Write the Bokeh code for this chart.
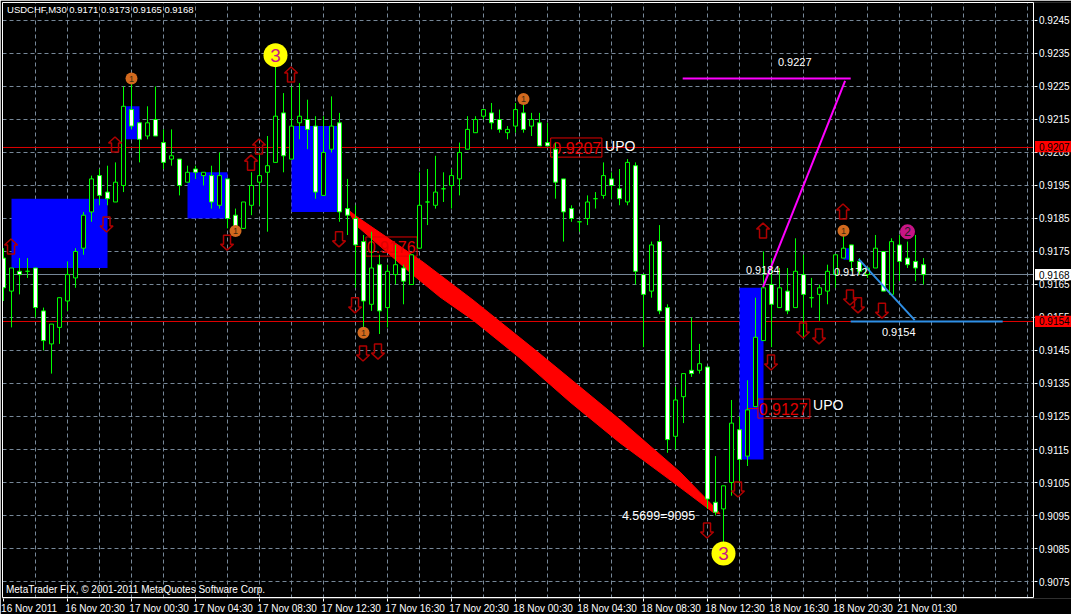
from bokeh.plotting import figure
from bokeh.models import (LinearAxis, FixedTicker, NumeralTickFormatter, Span)
from bokeh.core.properties import value
from bokeh.embed import file_html
from bokeh.resources import INLINE

title_text = "USDCHF,M30  0.9171 0.9173 0.9165 0.9168"
footer_text = "MetaTrader FIX, © 2001-2011 MetaQuotes Software Corp."

opens = [.9173,.9163,.9169,.9169,.9170,.9157,.9147,.9152,.9160,.9167,.9176,.9187,.9198,.9193,.9190,.9195,.9218,.9214,.9210,.9215,
 .9208,.9203,.9203,.9196,.9200,.9198,.9198,.9189,.9197,.9186,.9182,.9189,.9196,.9199,.9202,.9217,.9203,.9214,.9215,.9213,
 .9192,.9206,.9214,.9188,.9185,.9178,.9159,.9171,.9158,.9168,.9170,.9165,.9176,.9190,.9189,.9194,.9195,.9197,.9206,.9211,
 .9216,.9217,.9215,.9211,.9213,.9217,.9213,.9214,.9208,.9206,.9197,.9188,.9184,.9185,.9191,.9192,.9197,.9194,.9190,.9201,
 .9168,.9163,.9178,.9158,.9119,.9131,.9139,.9139,.9140,.9099,.9097,.9105,.9121,.9113,.9128,.9148,.9165,.9158,.9163,.9158,
 .9168,.9161,.9162,.9163,.9168,.9173,.9177,.9172,.9168,.9170,.9175,.9162,.9177,.9173,.9172,.9171]
highs = [.9176,.9170,.9173,.9173,.9170,.9158,.9153,.9161,.9172,.9176,.9187,.9198,.9200,.9201,.9202,.9225,.9226,.9214,.9219,.9225,
 .9212,.9212,.9203,.9201,.9201,.9199,.9201,.9205,.9197,.9188,.9190,.9199,.9205,.9210,.9231,.9223,.9225,.9226,.9221,.9216,
 .9216,.9222,.9217,.9197,.9189,.9180,.9181,.9174,.9171,.9177,.9171,.9174,.9199,.9200,.9204,.9199,.9200,.9208,.9216,.9216,
 .9218,.9220,.9218,.9213,.9220,.9221,.9217,.9217,.9214,.9208,.9197,.9189,.9184,.9192,.9193,.9202,.9199,.9200,.9203,.9202,
 .9168,.9178,.9183,.9159,.9134,.9138,.9155,.9147,.9140,.9113,.9104,.9130,.9125,.9136,.9161,.9175,.9173,.9170,.9170,.9179,
 .9174,.9167,.9165,.9171,.9174,.9180,.9177,.9173,.9170,.9180,.9175,.9179,.9180,.9178,.9180,.9173]
lows = [.9160,.9152,.9162,.9167,.9155,.9145,.9138,.9147,.9157,.9164,.9174,.9184,.9189,.9189,.9190,.9193,.9212,.9202,.9209,.9210,
 .9200,.9201,.9192,.9196,.9197,.9195,.9188,.9188,.9182,.9181,.9182,.9186,.9189,.9181,.9202,.9199,.9203,.9209,.9206,.9191,
 .9192,.9205,.9184,.9180,.9164,.9149,.9157,.9150,.9152,.9165,.9159,.9165,.9176,.9183,.9188,.9190,.9188,.9192,.9206,.9211,
 .9215,.9212,.9211,.9209,.9211,.9211,.9210,.9207,.9207,.9191,.9178,.9184,.9181,.9183,.9188,.9191,.9191,.9189,.9189,.9165,
 .9146,.9161,.9156,.9114,.9115,.9123,.9137,.9138,.9097,.9095,.9087,.9101,.9105,.9110,.9128,.9148,.9146,.9158,.9156,.9158,
 .9149,.9158,.9154,.9159,.9164,.9173,.9169,.9168,.9167,.9170,.9163,.9162,.9166,.9170,.9166,.9165]
closes = [.9164,.9170,.9168,.9169,.9158,.9148,.9153,.9161,.9168,.9175,.9186,.9197,.9192,.9191,.9196,.9219,.9213,.9209,.9214,.9210,
 .9202,.9204,.9195,.9199,.9199,.9199,.9190,.9198,.9185,.9182,.9190,.9195,.9198,.9201,.9216,.9204,.9213,.9216,.9212,.9193,
 .9205,.9213,.9187,.9186,.9177,.9160,.9170,.9157,.9169,.9171,.9166,.9174,.9189,.9190,.9193,.9194,.9198,.9205,.9212,.9215,
 .9218,.9214,.9212,.9212,.9218,.9212,.9215,.9207,.9207,.9196,.9187,.9185,.9184,.9190,.9191,.9198,.9195,.9191,.9202,.9169,
 .9162,.9177,.9157,.9118,.9130,.9138,.9138,.9141,.9100,.9096,.9104,.9123,.9112,.9127,.9149,.9164,.9159,.9164,.9157,.9169,
 .9162,.9161,.9164,.9169,.9174,.9176,.9172,.9169,.9170,.9176,.9163,.9178,.9172,.9171,.9170,.9168]

box_left = [1, 15, 23, 36, 92, 105]
box_right = [13, 17, 28, 42, 95, 106]
box_top = [.9191, .9219, .9199, .9213, .9164, .9176]
box_bottom = [.9170, .9209, .9185, .9187, .9112, .91725]

band_upper_bar = [42.94, 44.19, 52.44, 58.69, 66.44, 72.06, 77.06, 84.56, 89.19, 89.56]
band_upper_price = [.91879, .91855, .91718, .91603, .91452, .9134, .9124, .91082, .90967, .90955]
band_lower_bar = [88.69, 83.31, 77.06, 70.81, 64.56, 58.69, 54.56, 51.19, 44.19]
band_lower_price = [.9096, .91058, .9117, .91294, .91427, .91542, .91612, .91679, .91827]

gray_line = .916803
red_lines = [.920652, .915379]

up_bar = [.94, 13.94, 30.94, 31.94, 35.94, 94.94, 104.94]
up_price = [.91788, .92097, .92042, .92091, .92309, .91836, .91894]
down_bar = [12.88, 27.94, 41.94, 43.94, 44.94, 46.81, 87.94, 91.81, 95.94, 99.94, 101.94, 105.81, 106.81, 109.81]
down_price = [.91809, .91754, .91764, .91564, .91418, .91424, .90882, .91006, .91391, .91488, .9147, .91588, .91564, .91548]

orange_bar = [16, 29, 65, 45, 105]
orange_price = [.92274, .91812, .92212, .91504, .91813]
purple_bar = [113]
purple_price = [.9181]
yellow_bar = [34, 90]
yellow_price = [.92345, .90835]

magenta_bar = [84.9, 105.9]
magenta_level = .92274
magenta_d_bar = [94.94, 105.2]
magenta_d_price = [.91642, .92267]
blue_d_bar = [106.9, 113.9]
blue_d_price = [.91727, .91542]
blue_h_bar = [105.9, 124.9]
blue_h_price = .91538

note_bar = [96.8, 92.8, 103.8, 109.8]
note_price = [.92323, .91695, .91688, .91506]
note_text = ["0.9227", "0.9184", "0.9172", "0.9154"]
ratio_bar = [77.3]
ratio_price = [.90949]
ratio_text = ["4.5699=9095"]
upo_bar = [75.2, 101.2]
upo_price = [.9207, .91285]
tag_bar = [45.4, 68.6, 94.4]
tag_price = [.91765, .92065, .91274]
tag_text = ["0.9176", "0.9207", "0.9127"]
tag_left = [45.3, 68.4, 94.3]
tag_right = [51.7, 74.8, 100.8]
tag_top = [.91794, .92094, .91303]
tag_bottom = [.91736, .92036, .91245]
stem_from = [44, 92.9]
stem_to = [45.3, 94.3]
stem_price = [.91765, .91274]

y_ticks = [.9245, .9235, .9225, .9215, .9205, .9195, .9185, .9175, .9165, .9155, .9145, .9135, .9125, .9115, .9105, .9095, .9085, .9075]
x_tick_bars = [0, 8, 16, 24, 32, 40, 48, 56, 64, 72, 80, 88, 96, 104, 112]
x_tick_labels = ["16 Nov 2011", "16 Nov 20:30", "17 Nov 00:30", "17 Nov 04:30", "17 Nov 08:30", "17 Nov 12:30",
                 "17 Nov 16:30", "17 Nov 20:30", "18 Nov 00:30", "18 Nov 04:30", "18 Nov 08:30", "18 Nov 12:30",
                 "18 Nov 16:30", "18 Nov 20:30", "21 Nov 01:30"]
grid_bars = list(range(4, 129, 4))
side_text = ["0.9207", "0.9168", "0.9154"]
side_price = [.92068, .91680, .91538]
side_fill = ["#ff0000", "#ffffff", "#ff0000"]

FONT = "Liberation Sans"
GRID = "#778899"
GREEN = "#00ff00"
DARK_RED = "#b00000"
PX_X = 1 / 8.0
PX_Y = 0.0001 / 3.3
RIGHT_EDGE = 128.75
CANVAS_END = 133.5
Y_TOP = .925045
Y_BOTTOM = .906985

p = figure(width=1071, height=614, frame_width=1069, frame_height=596,
           x_range=(-0.125, CANVAS_END), y_range=(Y_BOTTOM, Y_TOP),
           output_backend="svg", toolbar_location=None, x_axis_location=None, y_axis_location=None,
           min_border_left=2, min_border_top=2, min_border_right=0, min_border_bottom=0,
           background_fill_color="#000000", border_fill_color="#000000", outline_line_color=None)

p.xgrid.ticker = FixedTicker(ticks=grid_bars)
p.ygrid.ticker = FixedTicker(ticks=y_ticks)
for g in (p.xgrid, p.ygrid):
    g.grid_line_color = GRID
    g.grid_line_dash = "4 3"
    g.grid_line_width = 1

ya = LinearAxis(ticker=FixedTicker(ticks=y_ticks), formatter=NumeralTickFormatter(format="0.0000"),
                fixed_location=RIGHT_EDGE + 0.0625, axis_line_color=None,
                major_tick_line_color="#ffffff", major_tick_out=3, major_tick_in=0,
                minor_tick_line_color=None, major_label_text_color="#ffffff", major_label_standoff=2,
                major_label_text_font=FONT, major_label_text_font_size="10px")
p.add_layout(ya, "right")

xa = LinearAxis(ticker=FixedTicker(ticks=x_tick_bars), axis_line_color=None, major_tick_line_color="#ffffff",
                major_tick_out=3, major_tick_in=0, minor_tick_line_color=None,
                major_label_overrides={b: "" for b in x_tick_bars}, major_label_standoff=0)
p.add_layout(xa, "below")

label_offset = [3.2] + [3.45] * (len(x_tick_bars) - 1)
label_pos = [b + o for b, o in zip(x_tick_bars, label_offset)]
xl = LinearAxis(ticker=FixedTicker(ticks=label_pos), axis_line_color=None, major_tick_line_color=None,
                major_tick_out=0, major_tick_in=0, minor_tick_line_color=None,
                major_label_overrides=dict(zip(label_pos, x_tick_labels)),
                major_label_text_color="#ffffff", major_label_text_font=FONT, major_label_text_font_size="10px",
                major_label_standoff=1)
p.add_layout(xl, "below")

p.add_layout(Span(location=gray_line, dimension="width", line_color=GRID, line_width=1, level="underlay"))
for r in red_lines:
    p.add_layout(Span(location=r, dimension="width", line_color="#e00000", line_width=1, level="underlay"))

p.quad(left=[RIGHT_EDGE], right=[CANVAS_END], top=[Y_TOP], bottom=[Y_BOTTOM], fill_color="#000000", line_color=None)

p.quad(left=box_left, right=box_right, top=box_top, bottom=box_bottom, fill_color="#0000ff", line_color=None)
p.patch(band_upper_bar + band_lower_bar, band_upper_price + band_lower_price, fill_color="#ff0000", line_color="#ff0000", line_width=1)

p.quad(left=tag_left, right=tag_right, top=tag_top, bottom=tag_bottom, fill_color=None, line_color="#e00000", line_width=1)
p.segment(x0=stem_from, x1=stem_to, y0=stem_price, y1=stem_price, line_color="#e00000", line_width=1)
p.text(x=tag_bar, y=tag_price, text=tag_text, text_color="#e00000", text_font=value(FONT), text_font_size="16px",
       text_align="left", text_baseline="middle")

bars = list(range(len(opens)))
p.segment(x0=bars, x1=bars, y0=lows, y1=highs, line_color=GREEN, line_width=1)
tops = [max(o, c) for o, c in zip(opens, closes)]
bots = [min(o, c) for o, c in zip(opens, closes)]
fills = ["#ffffff" if c < o else "#000000" for o, c in zip(opens, closes)]
p.quad(left=[b - 0.25 for b in bars], right=[b + 0.25 for b in bars], top=tops, bottom=bots,
       fill_color=fills, line_color=GREEN, line_width=1)

p.line(magenta_bar, [magenta_level, magenta_level], line_color="#ff00ff", line_width=2)
p.line(magenta_d_bar, magenta_d_price, line_color="#ff00ff", line_width=2)
p.line(blue_d_bar, blue_d_price, line_color="#2f8fe6", line_width=2)
p.line(blue_h_bar, [blue_h_price, blue_h_price], line_color="#2f8fe6", line_width=2)

ARROW_X = [0, 6.5, 3.5, 3.5, -3.5, -3.5, -6.5]
ARROW_Y = [0, 6, 6, 15, 15, 6, 6]
ax, ay = [], []
for b, t in zip(up_bar, up_price):
    ax.append([b + x * PX_X for x in ARROW_X]); ay.append([t - y * PX_Y for y in ARROW_Y])
for b, t in zip(down_bar, down_price):
    ax.append([b + x * PX_X for x in ARROW_X]); ay.append([t + y * PX_Y for y in ARROW_Y])
p.patches(ax, ay, fill_color=None, line_color=DARK_RED, line_width=1.5)

p.scatter(orange_bar, orange_price, size=12, marker="circle", fill_color="#d2691e", line_color=None)
p.text(orange_bar, orange_price, text=["1"] * len(orange_bar), text_color="#3a2a10", text_font=value(FONT),
       text_font_size="9px", text_align="center", text_baseline="middle")
p.scatter(purple_bar, purple_price, size=15, marker="circle", fill_color="#c71585", line_color=None)
p.text(purple_bar, purple_price, text=["2"], text_color="#1a1a1a", text_font=value(FONT),
       text_font_size="12px", text_align="center", text_baseline="middle")
p.scatter(yellow_bar, yellow_price, size=24, marker="circle", fill_color="#ffff00", line_color=None)
p.text(yellow_bar, yellow_price, text=["3"] * len(yellow_bar), text_color="#c71585", text_font=value(FONT),
       text_font_size="19px", text_align="center", text_baseline="middle")

p.text(note_bar, note_price, text=note_text, text_color="#ffffff", text_font=value(FONT), text_font_size="11px",
       text_align="left", text_baseline="middle")
p.text(ratio_bar, ratio_price, text=ratio_text, text_color="#ffffff", text_font=value(FONT), text_font_size="12.5px",
       text_align="left", text_baseline="middle")
p.text(upo_bar, upo_price, text=["UPO"] * 2, text_color="#ffffff", text_font=value(FONT), text_font_size="14px",
       text_align="left", text_baseline="middle")

p.segment(x0=[-0.125, RIGHT_EDGE, -0.125, -0.125], x1=[-0.125, RIGHT_EDGE, RIGHT_EDGE, RIGHT_EDGE],
          y0=[.907015, .907015, Y_TOP, .907015], y1=[Y_TOP, Y_TOP, Y_TOP, .907015],
          line_color="#ffffff", line_width=1, level="annotation")

p.text(x=[0.44], y=[.92482], text=[title_text], text_color="#ffffff", text_font=value(FONT), text_font_size="9.5px",
       text_align="left", text_baseline="middle", level="annotation")
p.text(x=[0.31], y=[.90727], text=[footer_text], text_color="#ffffff", text_font=value(FONT), text_font_size="10px",
       text_align="left", text_baseline="middle", level="annotation")

p.quad(left=[128.94] * 3, right=[CANVAS_END] * 3, top=[v + 0.00017 for v in side_price], bottom=[v - 0.00017 for v in side_price],
       fill_color=side_fill, line_color=None, level="annotation")
p.text(x=[129.44] * 3, y=side_price, text=side_text, text_color="#000000", text_font=value(FONT), text_font_size="10px",
       text_align="left", text_baseline="middle", level="annotation")

open("out.html", "w").write(file_html(p, INLINE))
